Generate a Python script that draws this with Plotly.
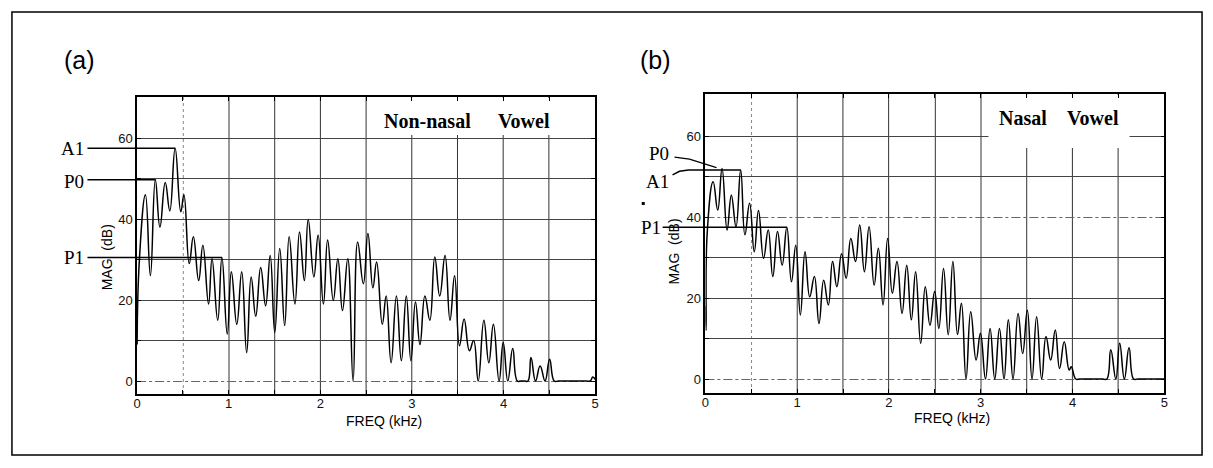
import math
import plotly.graph_objects as go

W, H = 1213, 468
SERIF = "Liberation Serif, Times New Roman, serif"
SANS = "Liberation Sans, Arial, sans-serif"

# ---- spectra: harmonic peaks, the dips between them and flat floor stretches (kHz, dB) ----
freq_a = [0.000, 0.025, 0.091, 0.145, 0.199, 0.249, 0.307, 0.357, 0.415, 0.477,
          0.511, 0.569, 0.614, 0.672, 0.718, 0.780, 0.818, 0.880, 0.926, 0.984,
          1.029, 1.088, 1.142, 1.196, 1.245, 1.295, 1.349, 1.403, 1.453, 1.503,
          1.557, 1.611, 1.660, 1.723, 1.773, 1.826, 1.868, 1.930, 1.976, 2.034,
          2.080, 2.142, 2.192, 2.242, 2.300, 2.358, 2.408, 2.470, 2.520, 2.574,
          2.615, 2.677, 2.719, 2.773, 2.831, 2.885, 2.939, 2.989, 3.039, 3.088,
          3.142, 3.196, 3.250, 3.304, 3.362, 3.416, 3.466, 3.520, 3.570, 3.628,
          3.674, 3.724, 3.786, 3.840, 3.890, 3.952, 3.997, 4.047, 4.101, 4.151,
          4.190, 4.230, 4.267, 4.300, 4.350, 4.400, 4.454, 4.504, 4.554, 4.600,
          4.750, 4.900, 4.948, 4.975, 5.000]
mag_a = [9, 30, 46, 26, 49.7, 38, 49, 42, 57.5, 41.8,
         46, 29, 35.6, 24.8, 33.5, 19, 30.2, 15, 30.5, 11.6,
         27, 14, 27, 7, 25.7, 16, 28, 18.6, 31, 12,
         32.7, 13.7, 35.6, 19, 36.8, 24.8, 39.9, 25.7, 36, 19,
         34.8, 19.9, 30.2, 17.4, 30.2, 0, 34.3, 24, 36.4, 23,
         29.4, 14, 21, 4.5, 21, 5, 21, 5, 19.5, 9,
         21, 15, 30.6, 21, 31, 15, 26, 8.7, 15.3, 7.5,
         10, 0, 15, 4.5, 14, 0, 9.5, 0, 8, 0,
         0, 0, 0, 5.8, 0, 3.7, 0, 5.4, 0, 0,
         0, 0, 0, 1.0, 0.4]

freq_b = [0.000, 0.008, 0.020, 0.085, 0.135, 0.182, 0.237, 0.283, 0.334, 0.385,
          0.431, 0.482, 0.533, 0.579, 0.634, 0.685, 0.735, 0.786, 0.837, 0.888,
          0.938, 0.985, 1.035, 1.086, 1.137, 1.188, 1.238, 1.289, 1.340, 1.386,
          1.433, 1.484, 1.534, 1.585, 1.636, 1.682, 1.733, 1.784, 1.839, 1.885,
          1.936, 1.986, 2.037, 2.088, 2.143, 2.194, 2.244, 2.291, 2.346, 2.396,
          2.447, 2.498, 2.544, 2.595, 2.646, 2.697, 2.747, 2.790, 2.840, 2.891,
          2.950, 2.997, 3.052, 3.102, 3.153, 3.204, 3.254, 3.301, 3.352, 3.407,
          3.457, 3.508, 3.559, 3.609, 3.664, 3.711, 3.762, 3.812, 3.859, 3.910,
          3.964, 3.986, 4.036, 4.080, 4.200, 4.330, 4.374, 4.417, 4.472, 4.514,
          4.565, 4.616, 4.666, 4.710, 4.850, 4.960, 5.000]
mag_b = [18, 12, 36, 48.7, 41.7, 52, 36.8, 45.4, 37.6, 51.6,
         35.6, 43.4, 31.4, 41.6, 29.8, 36.8, 25.3, 36.4, 28.1, 37.5,
         24, 33, 15.8, 31.4, 20.3, 25.3, 13.7, 24.4, 18.3, 29,
         22.8, 30.9, 24.9, 34.7, 29, 38, 26.5, 37.6, 23.2, 32.3,
         18.3, 34.7, 21.2, 29, 16.2, 28.1, 14.6, 26.5, 8.8, 22.8,
         13.3, 21.6, 12.5, 27.3, 10.9, 29, 11, 18.7, 0, 16.6,
         4.7, 11.3, 0, 12.5, 0, 12.5, 0, 14.6, 0, 16.2,
         6.3, 17, 0, 15.4, 0, 10.5, 4.7, 12.1, 2.6, 9.2,
         2.2, 3, 0, 0, 0, 0, 0, 7.2, 0, 8.8,
         0, 7.7, 0, 0, 0, 0, 0]

# indices of the marked harmonics (P0, A1, P1) in each spectrum
marks_a = {"P0": 4, "A1": 8, "P1": 18}
marks_b = {"P0": 5, "A1": 9, "P1": 19}

x_ticks = [0, 0.5, 1, 1.5, 2, 2.5, 3, 3.5, 4, 4.5, 5]
x_ticktext = ["0", "", "1", "", "2", "", "3", "", "4", "", "5"]
y_ticks = [0, 10, 20, 30, 40, 50, 60]
y_ticktext = ["0", "", "20", "", "40", "", "60"]

# frame geometry in page pixels: x of 0/5 kHz, y of 0/60 dB, frame top/bottom
geo_a = dict(x0=134, x5=595, y0=381, y60=138, top=97, bottom=394)
geo_b = dict(x0=706, x5=1168, y0=379, y60=136, top=94, bottom=393)


def px(x):
    return x / W


def py(y):
    return 1 - y / H


def scales(g):
    return (g["x5"] - g["x0"]) / 5.0, (g["y0"] - g["y60"]) / 60.0


def axes_for(g):
    kx, ky = scales(g)
    common = dict(tickmode="array", ticks="inside", ticklen=4, tickcolor="black",
                  showline=True, mirror="ticks", linecolor="black", linewidth=1.5,
                  showgrid=False, zeroline=False,
                  tickfont=dict(family=SANS, size=13, color="#111"))
    xa = dict(common, domain=[px(g["x0"]), px(g["x5"])], range=[0, 5],
              tickvals=x_ticks, ticktext=x_ticktext, ticklabelstandoff=-3)
    ya = dict(common, domain=[py(g["bottom"]), py(g["top"])],
              range=[(g["y0"] - g["bottom"]) / ky, (g["y0"] - g["top"]) / ky],
              tickvals=y_ticks, ticktext=y_ticktext)
    # page-wide companion axes with the same kHz / dB scale, for the level markers
    xf = dict(domain=[0, 1], range=[-g["x0"] / kx, (W - g["x0"]) / kx], visible=False)
    yf = dict(domain=[0, 1], range=[(g["y0"] - H) / ky, g["y0"] / ky], visible=False)
    return xa, ya, xf, yf


def crisp_x(v, g):
    # nudge a grid position onto a pixel centre so the 1px line stays sharp
    kx, _ = scales(g)
    p = math.floor(g["x0"] + v * kx) + 0.5
    return (p - g["x0"]) / kx


def crisp_y(v, g):
    _, ky = scales(g)
    p = math.floor(g["y0"] - v * ky) + 0.5
    return (g["y0"] - p) / ky


xa_a, ya_a, xf_a, yf_a = axes_for(geo_a)
xa_b, ya_b, xf_b, yf_b = axes_for(geo_b)
kx_a, _ = scales(geo_a)
kx_b, _ = scales(geo_b)

fig = go.Figure()

line_style = dict(color="black", width=1.5, shape="spline", smoothing=1.3)
fig.add_trace(go.Scatter(x=freq_a, y=mag_a, mode="lines", line=line_style,
                         xaxis="x", yaxis="y", hoverinfo="skip", showlegend=False))
fig.add_trace(go.Scatter(x=freq_b, y=mag_b, mode="lines", line=line_style,
                         xaxis="x2", yaxis="y2", hoverinfo="skip", showlegend=False))

marker_line = dict(color="black", width=1.5)


def to_khz(xpix, g, kx):
    return (xpix - g["x0"]) / kx


# panel (a) level markers: straight lines from the labels to the peaks
for name in ["A1", "P0", "P1"]:
    i = marks_a[name]
    x_start = to_khz(84, geo_a, kx_a)
    fig.add_trace(go.Scatter(x=[x_start, freq_a[i]], y=[mag_a[i], mag_a[i]],
                             mode="lines", line=marker_line, xaxis="x3", yaxis="y3",
                             hoverinfo="skip", showlegend=False))
    fig.add_annotation(x=to_khz(83, geo_a, kx_a), y=mag_a[i], xref="x3", yref="y3",
                       text=name, showarrow=False, xanchor="right", yanchor="middle",
                       yshift=-2 if name == "P0" else 0,
                       font=dict(family=SERIF, size=19, color="black"))

# panel (b) level markers
iP0, iA1, iP1 = marks_b["P0"], marks_b["A1"], marks_b["P1"]
fig.add_trace(go.Scatter(
    x=[to_khz(675, geo_b, kx_b), to_khz(690, geo_b, kx_b), freq_b[iP0] - 0.06],
    y=[mag_b[iP0] + 2.8, mag_b[iP0] + 2.3, mag_b[iP0] + 0.2],
    mode="lines", line=dict(color="black", width=1.2), xaxis="x4", yaxis="y4",
    hoverinfo="skip", showlegend=False))
fig.add_trace(go.Scatter(
    x=[to_khz(673, geo_b, kx_b), to_khz(680, geo_b, kx_b), to_khz(689, geo_b, kx_b), freq_b[iA1]],
    y=[mag_b[iA1] - 1.2, mag_b[iA1] - 0.3, mag_b[iA1], mag_b[iA1]],
    mode="lines", line=marker_line, xaxis="x4", yaxis="y4",
    hoverinfo="skip", showlegend=False))
fig.add_trace(go.Scatter(
    x=[to_khz(663, geo_b, kx_b), freq_b[iP1]], y=[mag_b[iP1], mag_b[iP1]],
    mode="lines", line=marker_line, xaxis="x4", yaxis="y4",
    hoverinfo="skip", showlegend=False))
for name, xr, dy in [("P0", 671, 3.6), ("A1", 671, -2.8), ("P1", 663, 0.0)]:
    i = marks_b[name]
    fig.add_annotation(x=to_khz(xr, geo_b, kx_b), y=mag_b[i] + dy, xref="x4", yref="y4",
                       text=name, showarrow=False, xanchor="right", yanchor="middle",
                       font=dict(family=SERIF, size=19, color="black"))

shapes = []
# grid: 0.5 kHz verticals and 10 dB horizontals
for xr, yr, g in [("x", "y", geo_a), ("x2", "y2", geo_b)]:
    for xv in x_ticks[1:-1]:
        xs = crisp_x(xv, g)
        shapes.append(dict(type="line", xref=xr, yref=yr + " domain", x0=xs, x1=xs, y0=0, y1=1,
                           layer="below",
                           line=dict(color="#888" if xv == 0.5 else "#333", width=1,
                                     dash="dot" if xv == 0.5 else "solid")))
    for yv in y_ticks:
        ys = crisp_y(yv, g)
        dashed = yv == 0 or (xr == "x2" and yv == 40)
        shapes.append(dict(type="line", xref=xr + " domain", yref=yr, x0=0, x1=1, y0=ys, y1=ys,
                           layer="below",
                           line=dict(color="#666" if dashed else "#444", width=1,
                                     dash="dashdot" if dashed else "solid")))
# blank title boxes in the upper right of each frame
shapes.append(dict(type="rect", xref="paper", yref="paper", layer="below",
                   x0=px(370), x1=px(594), y0=py(135), y1=py(98),
                   fillcolor="white", line=dict(width=0)))
shapes.append(dict(type="rect", xref="paper", yref="paper", layer="below",
                   x0=px(991), x1=px(1133), y0=py(148), y1=py(95),
                   fillcolor="white", line=dict(width=0)))
# outer frame of the figure
shapes.append(dict(type="rect", xref="paper", yref="paper",
                   x0=px(8), x1=px(1206), y0=py(455), y1=py(12),
                   line=dict(color="black", width=1.5)))
# small ink mark beside the (b) axis
shapes.append(dict(type="rect", xref="paper", yref="paper",
                   x0=px(642), x1=px(645), y0=py(205), y1=py(202),
                   fillcolor="black", line=dict(width=0)))

texts = [
    ("(a)", 75.5, 60, SANS, 25, False, "center"),
    ("(b)", 655.5, 60, SANS, 25, False, "center"),
    ("MAG  (dB)", 104, 257, SANS, 14, False, "center"),
    ("MAG  (dB)", 674, 252, SANS, 14, False, "center"),
    ("FREQ (kHz)", 383, 421, SANS, 14, False, "center"),
    ("FREQ (kHz)", 954, 418, SANS, 14, False, "center"),
    ("Non-nasal", 381, 121, SERIF, 20, True, "left"),
    ("Vowel", 495, 121, SERIF, 20, True, "left"),
    ("Nasal", 1000, 118, SERIF, 20, True, "left"),
    ("Vowel", 1068, 118, SERIF, 20, True, "left"),
]
for t, x, y, fam, size, bold, anchor in texts:
    fig.add_annotation(x=px(x), y=py(y), xref="paper", yref="paper",
                       text=f"<b>{t}</b>" if bold else t, showarrow=False,
                       xanchor=anchor, yanchor="middle",
                       textangle=-90 if t.startswith("MAG") else 0,
                       font=dict(family=fam, size=size, color="black"))

fig.update_layout(
    width=W, height=H, margin=dict(l=0, r=0, t=0, b=0),
    paper_bgcolor="white", plot_bgcolor="rgba(0,0,0,0)",
    showlegend=False, shapes=shapes,
    xaxis=dict(xa_a, anchor="y"), yaxis=dict(ya_a, anchor="x"),
    xaxis2=dict(xa_b, anchor="y2"), yaxis2=dict(ya_b, anchor="x2"),
    xaxis3=dict(xf_a, anchor="y3"), yaxis3=dict(yf_a, anchor="x3"),
    xaxis4=dict(xf_b, anchor="y4"), yaxis4=dict(yf_b, anchor="x4"),
)

fig.write_html("out.html")
